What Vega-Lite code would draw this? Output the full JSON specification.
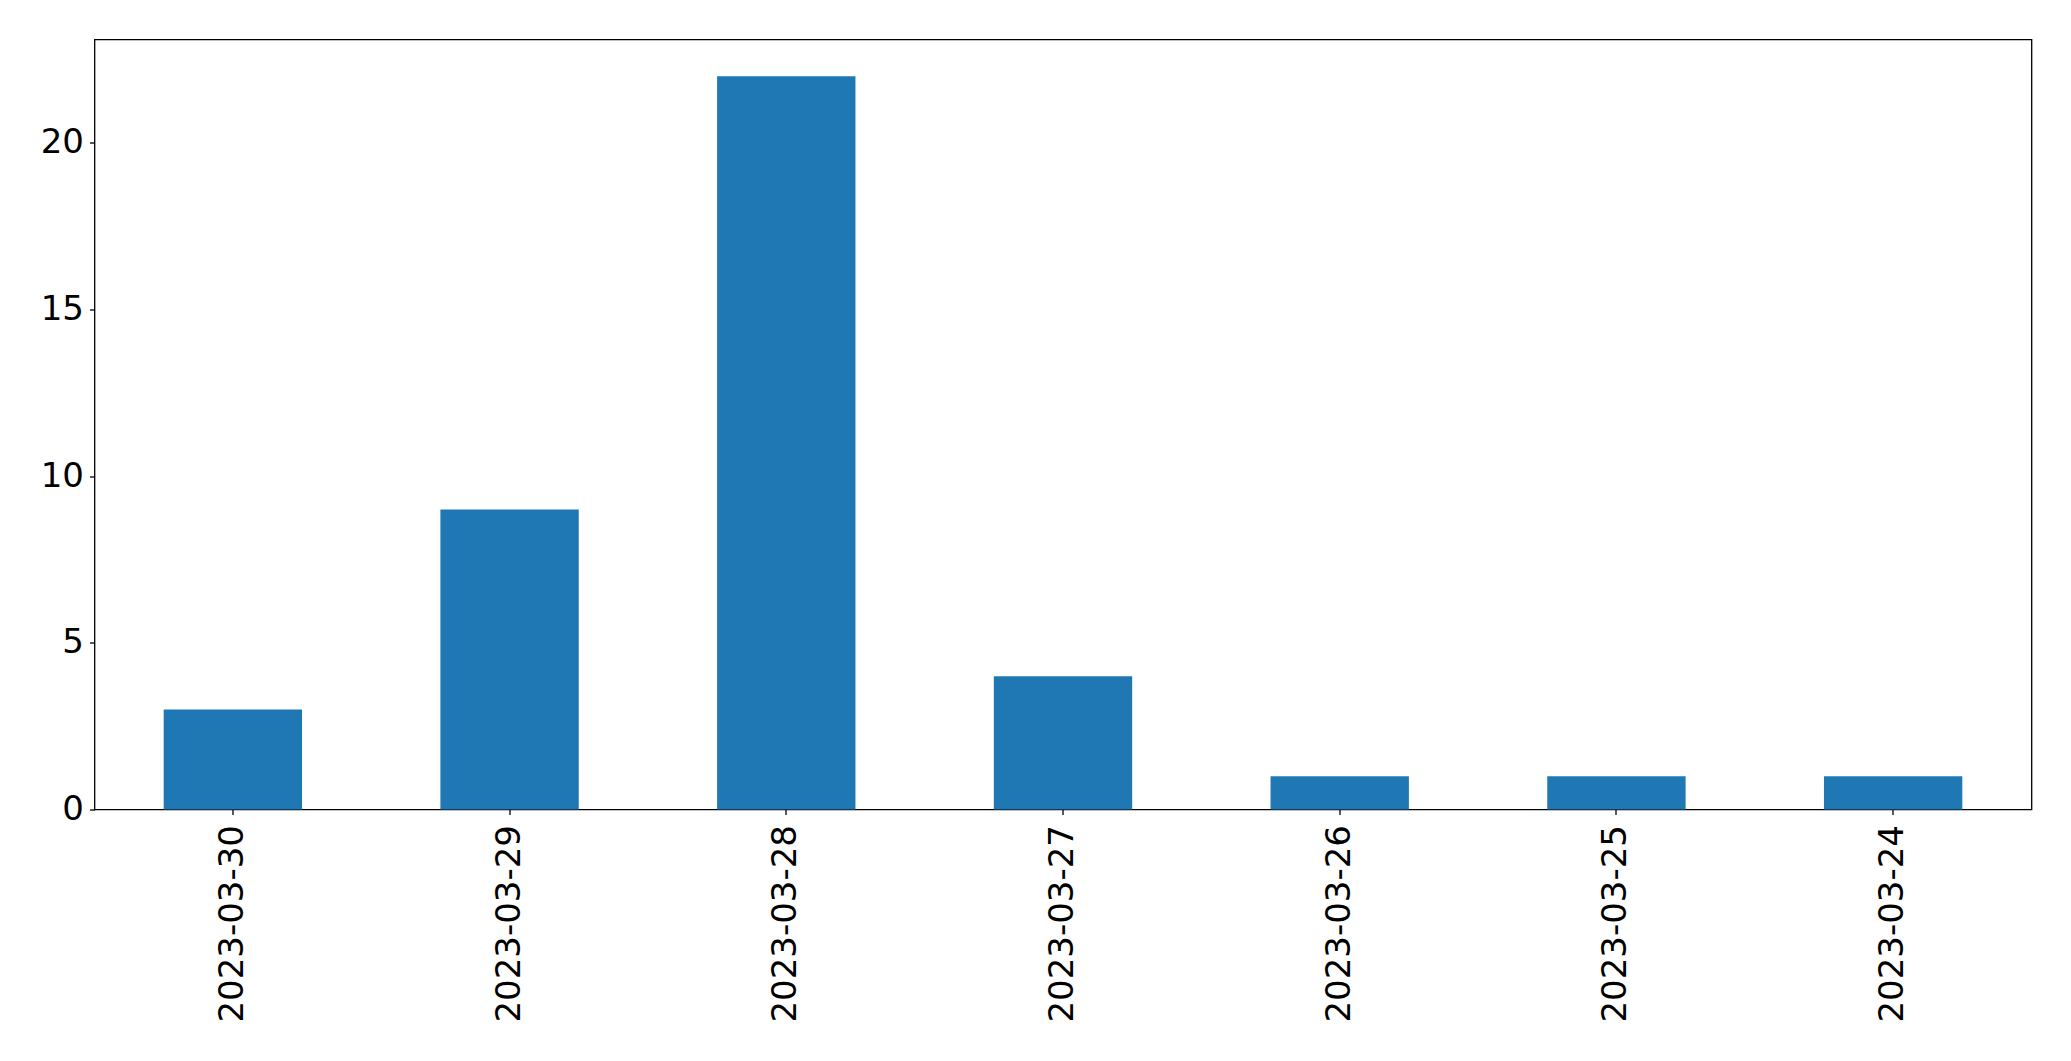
{
  "$schema": "https://vega.github.io/schema/vega-lite/v6.json",
  "autosize": "none",
  "width": 1937,
  "height": 770,
  "padding": {"left": 94.5, "top": 39.5, "right": 39.5, "bottom": 252},
  "background": "white",
  "config": {
    "view": {"stroke": "black", "strokeWidth": 1.3},
    "font": "DejaVu Sans"
  },
  "data": {
    "values": [
      {"date": "2023-03-30", "count": 3},
      {"date": "2023-03-29", "count": 9},
      {"date": "2023-03-28", "count": 22},
      {"date": "2023-03-27", "count": 4},
      {"date": "2023-03-26", "count": 1},
      {"date": "2023-03-25", "count": 1},
      {"date": "2023-03-24", "count": 1}
    ]
  },
  "mark": {"type": "bar", "color": "#1f77b4"},
  "encoding": {
    "x": {
      "field": "date",
      "type": "nominal",
      "sort": null,
      "scale": {"paddingInner": 0.5, "paddingOuter": 0.25},
      "axis": {
        "title": null,
        "labelAngle": 270,
        "labelFontSize": 34,
        "labelColor": "black",
        "labelPadding": 10,
        "labelLimit": 0,
        "labelOverlap": false,
        "tickSize": 5,
        "tickWidth": 1.3,
        "tickColor": "black",
        "domain": false,
        "grid": false
      }
    },
    "y": {
      "field": "count",
      "type": "quantitative",
      "scale": {"domain": [0, 23.1], "nice": false, "zero": true},
      "axis": {
        "title": null,
        "values": [0, 5, 10, 15, 20],
        "labelFontSize": 34,
        "labelColor": "black",
        "labelPadding": 6,
        "tickSize": 5,
        "tickWidth": 1.3,
        "tickColor": "black",
        "domain": false,
        "grid": false
      }
    }
  }
}
